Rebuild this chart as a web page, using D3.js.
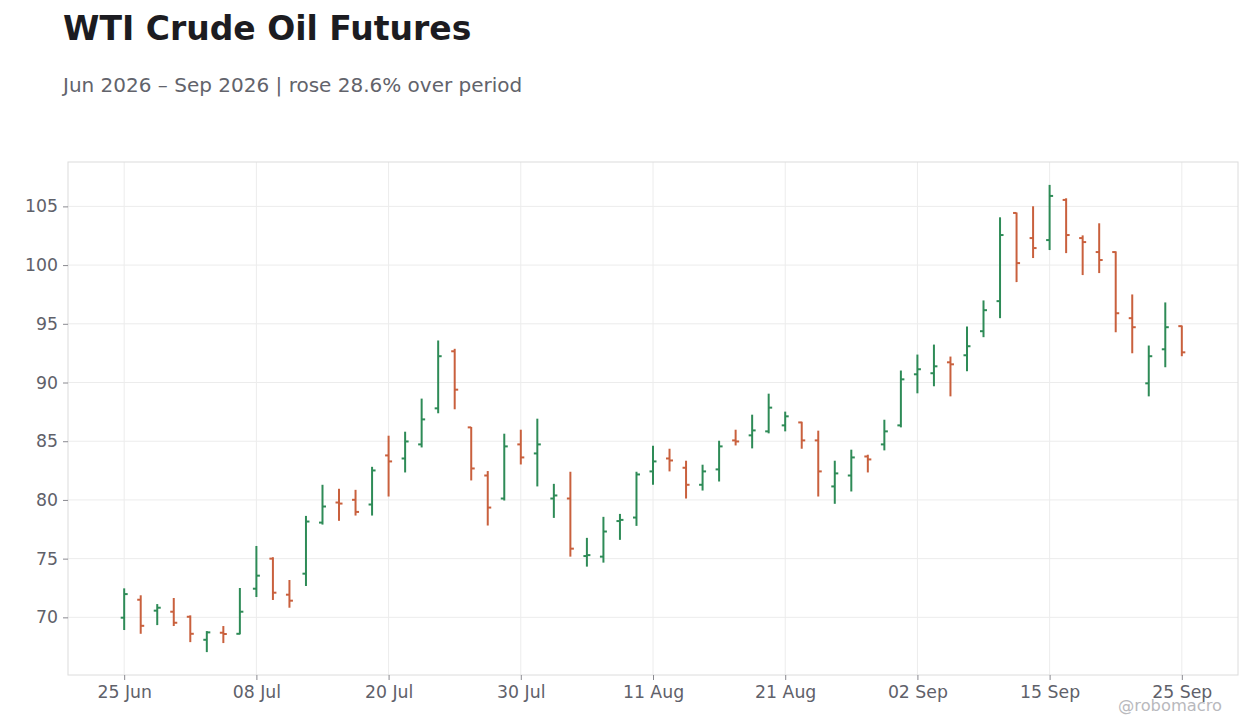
<!DOCTYPE html>
<html>
<head>
<meta charset="utf-8">
<script src="https://cdn.jsdelivr.net/npm/d3@7"></script>
<style>
  body { margin: 0; background: #fff; }
  text { font-family: "DejaVu Sans", sans-serif; }
</style>
</head>
<body>
<svg id="chart"></svg>
<script>
// trading days (US holidays Jul 3 and Sep 7 skipped)
var dates = ["2026-06-25","2026-06-26","2026-06-29","2026-06-30","2026-07-01","2026-07-02","2026-07-06","2026-07-07","2026-07-08","2026-07-09",
    "2026-07-10","2026-07-13","2026-07-14","2026-07-15","2026-07-16","2026-07-17","2026-07-20","2026-07-21","2026-07-22","2026-07-23",
    "2026-07-24","2026-07-27","2026-07-28","2026-07-29","2026-07-30","2026-07-31","2026-08-03","2026-08-04","2026-08-05","2026-08-06",
    "2026-08-07","2026-08-10","2026-08-11","2026-08-12","2026-08-13","2026-08-14","2026-08-17","2026-08-18","2026-08-19","2026-08-20",
    "2026-08-21","2026-08-24","2026-08-25","2026-08-26","2026-08-27","2026-08-28","2026-08-31","2026-09-01","2026-09-02","2026-09-03",
    "2026-09-04","2026-09-08","2026-09-09","2026-09-10","2026-09-11","2026-09-14","2026-09-15","2026-09-16","2026-09-17","2026-09-18",
    "2026-09-21","2026-09-22","2026-09-23","2026-09-24","2026-09-25"];

var opens = [69.97,71.50,70.57,70.48,70.05,68.09,68.69,68.60,72.44,75.00,
    71.93,73.72,78.07,79.78,80.01,79.61,83.79,83.53,84.73,87.80,
    92.66,86.18,82.08,80.12,84.73,83.96,80.12,80.12,75.22,75.17,
    78.20,78.50,82.43,83.53,82.74,81.29,82.60,85.07,85.50,85.84,
    86.35,86.60,85.07,81.15,82.08,83.70,84.73,86.35,90.70,90.79,
    91.72,92.32,94.37,96.93,104.44,102.30,102.13,105.55,102.30,101.11,
    101.11,95.48,89.93,92.83,94.80];
var highs = [72.47,71.88,71.13,71.65,70.17,68.83,69.26,72.50,76.08,75.12,
    73.18,78.64,81.29,80.95,80.86,82.82,85.47,85.81,88.63,93.58,
    92.87,86.21,82.46,85.64,85.98,86.92,81.37,82.40,76.77,78.56,
    78.81,82.40,84.62,84.36,83.34,83.00,85.04,85.98,87.26,89.05,
    87.52,86.66,85.90,83.34,84.28,83.85,86.83,91.02,92.38,93.23,
    92.21,94.77,96.99,104.07,104.47,105.01,106.83,105.69,102.53,103.56,
    101.17,97.50,93.15,96.82,94.85];
var lows = [68.92,68.60,69.34,69.26,67.89,67.04,67.81,68.55,71.73,71.48,
    70.82,72.67,77.90,78.22,78.67,78.67,80.29,82.34,84.47,87.38,
    87.72,81.66,77.82,79.95,83.02,81.15,78.47,75.17,74.32,74.66,
    76.60,77.79,81.29,82.43,80.12,80.80,81.57,84.64,84.39,85.67,
    85.84,84.36,80.29,79.67,80.72,82.34,84.22,86.18,89.08,89.68,
    88.82,90.96,93.86,95.48,98.55,100.60,101.28,101.02,99.15,99.32,
    94.28,92.49,88.82,91.30,92.24];
var closes = [71.98,69.28,70.82,69.54,68.60,68.72,68.58,70.48,73.55,72.10,
    71.42,78.16,79.44,79.69,78.98,82.51,83.28,84.98,86.86,92.24,
    89.39,82.68,79.35,84.56,83.62,84.73,80.38,75.85,75.30,77.31,
    78.30,82.17,83.28,83.36,81.29,82.43,84.56,84.98,85.92,87.86,
    87.12,85.07,82.43,82.26,83.62,83.45,85.84,90.27,91.13,91.38,
    91.55,93.09,96.16,102.56,100.17,101.45,105.89,102.56,101.96,100.43,
    95.90,94.71,92.24,94.71,92.57];

var tickDates = ["2026-06-25","2026-07-08","2026-07-20","2026-07-30","2026-08-11","2026-08-21","2026-09-02","2026-09-15","2026-09-25"];
var yTicks = [70, 75, 80, 85, 90, 95, 100, 105];

var W = 1260, H = 728;
var plotL = 68, plotR = 1238, plotT = 162, plotB = 675;
var upColor = "#2e8b57", downColor = "#c9603d";

var bars = dates.map(function(d, i) {
    return {date: d, o: opens[i], h: highs[i], l: lows[i], c: closes[i]};
});

var svg = d3.select("#chart")
    .attr("width", W)
    .attr("height", H);

var x = d3.scalePoint()
    .domain(dates)
    .range([plotL, plotR])
    .padding(3.4);

var lo = d3.min(lows), hi = d3.max(highs), pad = (hi - lo) * 0.049;
var y = d3.scaleLinear()
    .domain([lo - pad, hi + pad])
    .range([plotB, plotT]);

// title block
svg.append("text")
    .attr("x", 63)
    .attr("y", 40)
    .attr("font-size", 33)
    .attr("font-weight", "bold")
    .attr("fill", "#1c1c21")
    .text("WTI Crude Oil Futures");

var pct = (closes[closes.length-1] / closes[0] - 1) * 100;
svg.append("text")
    .attr("x", 63)
    .attr("y", 92)
    .attr("font-size", 20)
    .attr("fill", "#62636b")
    .text("Jun 2026 \u2013 Sep 2026 | rose " + pct.toFixed(1) + "% over period");

// grid
svg.append("g")
    .selectAll("line")
    .data(yTicks)
    .enter()
    .append("line")
        .attr("x1", plotL)
        .attr("x2", plotR)
        .attr("y1", function(d) { return y(d); })
        .attr("y2", function(d) { return y(d); })
        .attr("stroke", "#ececec")
        .attr("stroke-width", 1);

svg.append("g")
    .selectAll("line")
    .data(tickDates)
    .enter()
    .append("line")
        .attr("x1", function(d) { return x(d); })
        .attr("x2", function(d) { return x(d); })
        .attr("y1", plotT)
        .attr("y2", plotB)
        .attr("stroke", "#ececec")
        .attr("stroke-width", 1);

svg.append("rect")
    .attr("x", plotL)
    .attr("y", plotT)
    .attr("width", plotR - plotL)
    .attr("height", plotB - plotT)
    .attr("fill", "none")
    .attr("stroke", "#dcdcdc");

// axes
var fmt = d3.timeFormat("%d %b"), parse = d3.timeParse("%Y-%m-%d");
var xAxis = svg.append("g")
    .attr("transform", `translate(0,${plotB})`)
    .call(d3.axisBottom(x).tickValues(tickDates).tickSize(5).tickPadding(6)
        .tickFormat(function(d) { return fmt(parse(d)); }));
var yAxis = svg.append("g")
    .attr("transform", `translate(${plotL},0)`)
    .call(d3.axisLeft(y).tickValues(yTicks).tickSize(5).tickPadding(5));

[xAxis, yAxis].forEach(function(a) {
    a.select(".domain").remove();
    a.selectAll(".tick line").attr("stroke", "#8a8a90");
    a.selectAll(".tick text")
        .attr("fill", "#5f616a")
        .attr("font-size", 17.3)
        .attr("font-family", "DejaVu Sans");
});

// OHLC bars
var g = svg.append("g");
var col = function(d) { return d.c >= d.o ? upColor : downColor; };

g.selectAll(".hl")
    .data(bars)
    .enter()
    .append("line")
        .attr("x1", function(d) { return x(d.date); })
        .attr("x2", function(d) { return x(d.date); })
        .attr("y1", function(d) { return y(d.h); })
        .attr("y2", function(d) { return y(d.l); })
        .attr("stroke", col)
        .attr("stroke-width", 2);

g.selectAll(".op")
    .data(bars)
    .enter()
    .append("line")
        .attr("x1", function(d) { return x(d.date) - 3.5; })
        .attr("x2", function(d) { return x(d.date); })
        .attr("y1", function(d) { return y(d.o); })
        .attr("y2", function(d) { return y(d.o); })
        .attr("stroke", col)
        .attr("stroke-width", 2);

g.selectAll(".cl")
    .data(bars)
    .enter()
    .append("line")
        .attr("x1", function(d) { return x(d.date); })
        .attr("x2", function(d) { return x(d.date) + 3.5; })
        .attr("y1", function(d) { return y(d.c); })
        .attr("y2", function(d) { return y(d.c); })
        .attr("stroke", col)
        .attr("stroke-width", 2);

// watermark
svg.append("text")
    .attr("x", 1222)
    .attr("y", 711)
    .attr("text-anchor", "end")
    .attr("font-size", 16.3)
    .attr("fill", "#b9b9bd")
    .text("@robomacro");
</script>
</body>
</html>
